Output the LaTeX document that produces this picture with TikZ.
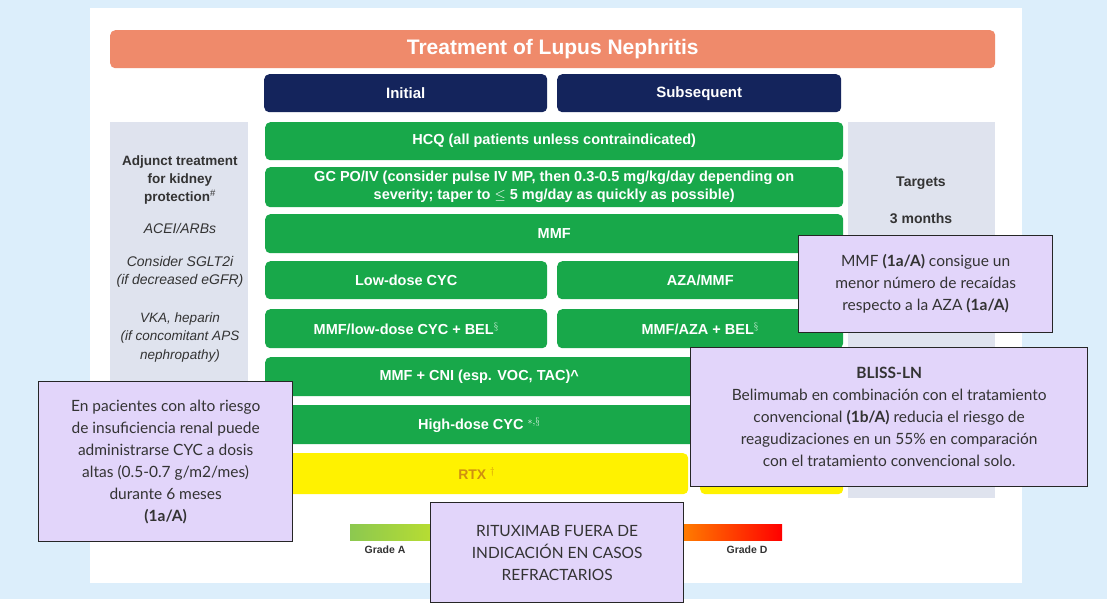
\documentclass[tikz,border=0pt]{standalone}
\usepackage{fontspec}
\setmainfont{Liberation Sans}
\newfontfamily\callfont{Lato}
\definecolor{skyblue}{HTML}{DCEEFB}
\definecolor{salmon}{HTML}{EF8A6B}
\definecolor{navy}{HTML}{14245C}
\definecolor{leafgreen}{HTML}{18A84A}
\definecolor{panelgrey}{HTML}{DFE3EE}
\definecolor{lilac}{HTML}{E2D5FA}
\definecolor{rtxgold}{HTML}{D09010}
\definecolor{gradegreen}{HTML}{8CC850}
\begin{document}
\begin{tikzpicture}[x=1pt,y=-1pt,
      box/.style={rounded corners=5pt,inner sep=0pt,align=center,anchor=north west},
      title box/.style={box,fill=salmon,text=white,font=\bfseries\fontsize{21}{24}\selectfont},
      head box/.style={box,fill=navy,text=white,font=\bfseries\fontsize{15}{17}\selectfont},
      green box/.style={box,fill=leafgreen,text=white,font=\bfseries\fontsize{14.5}{18}\selectfont},
      rtx box/.style={box,fill=yellow,text=rtxgold,font=\bfseries\fontsize{14}{16}\selectfont},
      side text/.style={align=center,text=black!80,font=\itshape\fontsize{14}{18.5}\selectfont},
      note box/.style={draw=black!85,line width=1.3pt,fill=lilac,inner sep=0pt,align=center,
            anchor=north west,text=black!80,font=\callfont\fontsize{15.5}{22}\selectfont}]

      %% background and panels
      \fill[skyblue] (0,0) rectangle (1107,599);
      \fill[white] (90,8) rectangle (1022,583);
      \fill[panelgrey] (110,122) rectangle (248,498);
      \fill[panelgrey] (848,122) rectangle (995,498);

      %% header bars
      \node[title box,minimum width=885,minimum height=38] (title) at (110,30) {Treatment of Lupus Nephritis};
      \node[head box,minimum width=283,minimum height=38] (init) at (264,74) {Initial};
      \node[head box,minimum width=284,minimum height=38] (subs) at (557,74) {Subsequent};

      %% therapy rows
      \node[green box,minimum width=578,minimum height=38] (hcq) at (265,122) {HCQ (all patients unless contraindicated)};
      \node[green box,minimum width=578,minimum height=40] (gc) at (265,167)
            {GC PO/IV (consider pulse IV MP, then 0.3-0.5 mg/kg/day depending on\\severity; taper to $\leq$ 5 mg/day as quickly as possible)};
      \node[green box,minimum width=578,minimum height=39] (mmf) at (265,214) {MMF};
      \node[green box,minimum width=282,minimum height=38] (cyc) at (265,261) {Low-dose CYC};
      \node[green box,minimum width=286,minimum height=38] (aza) at (557,261) {AZA/MMF};
      \node[green box,minimum width=282,minimum height=39] (belcyc) at (265,309) {MMF/low-dose CYC + BEL$^{\S}$};
      \node[green box,minimum width=286,minimum height=39] (belaza) at (557,309) {MMF/AZA + BEL$^{\S}$};
      \node[green box,minimum width=578,minimum height=39] (cni) at (265,357) {\hspace*{-150pt}MMF + CNI (esp. VOC, TAC)\^{}};
      \node[green box,minimum width=578,minimum height=39] (hicyc) at (265,405) {\hspace*{-150pt}High-dose CYC $^{*,\S}$};
      \node[rtx box,minimum width=423,minimum height=41] (rtx) at (265,453) {RTX $^{\dagger}$};
      \node[rtx box,minimum width=143,minimum height=41] (rtxb) at (700,453) {};

      %% side texts
      \node[side text,font=\bfseries\fontsize{13.5}{18}\selectfont] (adj) at (180,180) {Adjunct treatment\\for kidney\\protection$^{\#}$};
      \node[side text] (acei) at (180,228) {ACEI/ARBs};
      \node[side text] (sglt) at (180,272) {Consider SGLT2i\\(if decreased eGFR)};
      \node[side text,font=\itshape\fontsize{13.5}{18.5}\selectfont] (vka) at (180,337) {VKA, heparin\\(if concomitant APS\\nephropathy)};
      \node[side text,font=\bfseries\fontsize{14}{16}\selectfont] (targets) at (921,183) {Targets};
      \node[side text,font=\bfseries\fontsize{14}{16}\selectfont] (months) at (921,218) {3 months};

      %% grade scale
      \fill[left color=gradegreen,right color=yellow] (350,524) rectangle (566,540);
      \fill[left color=yellow,right color=orange] (566,524) rectangle (680,540);
      \fill[left color=orange,right color=red] (680,524) rectangle (782,540);
      \node[font=\bfseries\fontsize{10.5}{12}\selectfont,text=black!80] (gradea) at (385,550) {Grade A};
      \node[font=\bfseries\fontsize{10.5}{12}\selectfont,text=black!80] (graded) at (747,550) {Grade D};

      %% callouts
      \node[note box,minimum width=254,minimum height=160] (noteleft) at (38,381)
            {En pacientes con alto riesgo\\de insuficiencia renal puede\\administrarse CYC a dosis\\altas (0.5-0.7 g/m2/mes)\\durante 6 meses\\\textbf{(1a/A)}};
      \node[note box,minimum width=253,minimum height=100] (noterit) at (430,502)
            {RITUXIMAB FUERA DE\\INDICACI\'ON EN CASOS\\REFRACTARIOS};
      \node[note box,minimum width=254,minimum height=97] (noteaza) at (798,235)
            {MMF \textbf{(1a/A)} consigue un\\menor n\'umero de reca\'idas\\respecto a la AZA \textbf{(1a/A)}};
      \node[note box,minimum width=397,minimum height=139] (notebliss) at (690,347)
            {\textbf{BLISS-LN}\\Belimumab en combinaci\'on con el tratamiento\\convencional \textbf{(1b/A)} reducia el riesgo de\\reagudizaciones en un 55\% en comparaci\'on\\con el tratamiento convencional solo.};
\end{tikzpicture}
\end{document}
